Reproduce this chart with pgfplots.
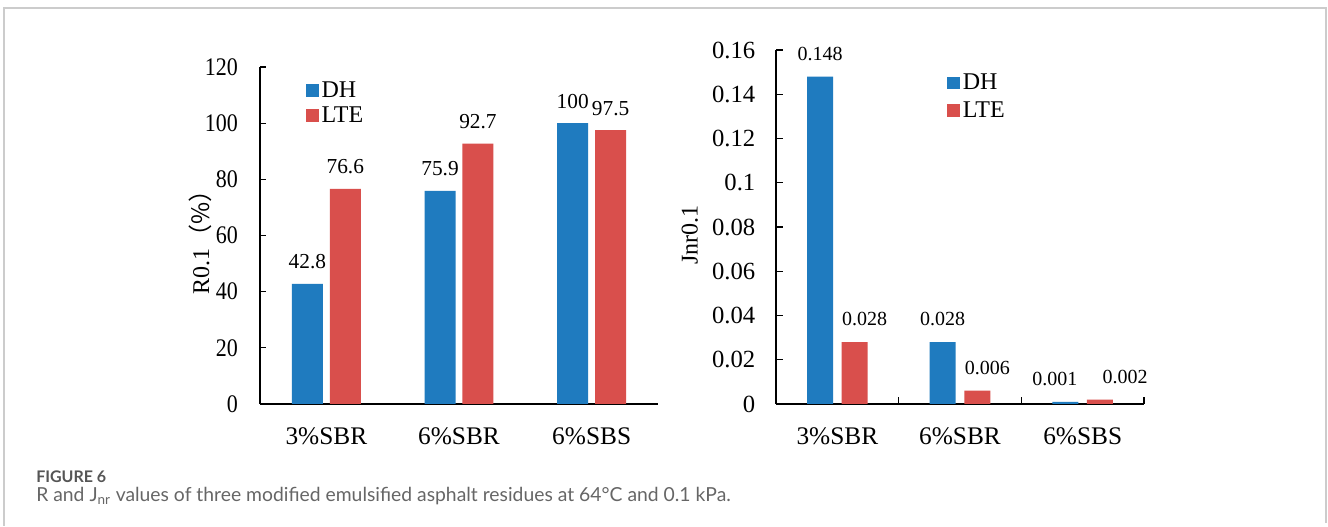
\documentclass[border=0pt]{standalone}
\usepackage{fontspec}
\setmainfont{Liberation Serif}
\newfontfamily\cjk{Noto Sans CJK SC}
\newfontfamily\capfont{Lato}
\usepackage{pgfplots}
\pgfplotsset{compat=1.18}
\definecolor{dhblue}{HTML}{1F7BBF}
\definecolor{ltered}{HTML}{D94F4C}
\definecolor{framegray}{HTML}{CCCCCC}
\definecolor{capgray}{HTML}{555555}
\definecolor{captext}{HTML}{666666}

\pgfplotsset{
  sqlegend/.style={legend image code/.code={\fill[##1,draw=none] (0pt,-4.8pt) rectangle (9.6pt,4.8pt);}},
}

\begin{document}
\begin{tikzpicture}[x=0.75pt,y=0.75pt]
\fill[white] (0,0) rectangle (1328,526);
\draw[framegray, line width=1.1pt] (4,0) -- (4,518) -- (1326,518) -- (1326,3);

% ---------- left chart ----------
\begin{axis}[
  at={(195pt,91.5pt)}, anchor=south west,
  scale only axis, width=298.5pt, height=252.75pt,
  xmin=-0.5, xmax=2.5, ymin=0, ymax=120,
  axis lines*=left,
  axis line style={black, line width=0.9pt},
  ybar, bar width=0.234,
  xtick={0,1,2}, xticklabels={3\%SBR,6\%SBR,6\%SBS},
  x tick style={draw=none},
  ytick={0,20,...,120},
  tick align=inside, major tick length=4.5pt,
  y tick style={black, line width=0.9pt},
  /pgf/number format/assume math mode=true,
  y tick label style={font=\fontsize{16.5}{19}\selectfont, yscale=1.15, xshift=-13pt},
  x tick label style={font=\fontsize{19}{21}\selectfont, yshift=-14pt},
  ylabel={R0.1\cjk{（}\%\cjk{）}},
  every axis y label/.style={at={(axis description cs:-0.151,0.498)}, rotate=90, anchor=center, font=\fontsize{18}{20}\selectfont},
  nodes near coords,
  every node near coord/.append style={font=\fontsize{16}{19}\selectfont, anchor=center, yshift=16.5pt, black},
  sqlegend,
  legend style={draw=none, fill=none, at={(axis description cs:0.115,0.965)}, anchor=north west,
    font=\fontsize{18}{20}\selectfont, row sep=1.5pt, inner sep=0pt,
    /tikz/every even column/.append style={column sep=4pt}},
  legend cell align=left,
]
\addplot[fill=dhblue, draw=none, bar shift=-0.143] coordinates {(0,42.8) (1,75.9) (2,100)};
\addplot[fill=ltered, draw=none, bar shift=0.143] coordinates {(0,76.6) (1,92.7) (2,97.5)};
\legend{DH, LTE}
\end{axis}

% ---------- right chart ----------
\begin{axis}[
  at={(582pt,91.5pt)}, anchor=south west,
  scale only axis, width=276pt, height=265.5pt,
  xmin=-0.5, xmax=2.5, ymin=0, ymax=0.16,
  axis lines*=left,
  axis line style={black, line width=0.9pt},
  ybar, bar width=0.212,
  xtick={0.5,1.5,2.5}, xticklabels={},
  x tick style={black, line width=0.9pt},
  extra x ticks={0,1,2}, extra x tick labels={3\%SBR,6\%SBR,6\%SBS},
  extra x tick style={major tick length=0pt},
  ytick={0,0.02,...,0.16},
  yticklabels={0,0.02,0.04,0.06,0.08,0.1,0.12,0.14,0.16},
  tick align=inside, major tick length=5.5pt,
  y tick style={black, line width=0.9pt},
  /pgf/number format/assume math mode=true,
  y tick label style={font=\fontsize{18.5}{21}\selectfont, xshift=-12pt},
  x tick label style={font=\fontsize{19}{21}\selectfont, yshift=-14pt},
  ylabel={Jnr0.1},
  every axis y label/.style={at={(axis description cs:-0.234,0.477)}, rotate=90, anchor=center, font=\fontsize{18}{20}\selectfont},
  nodes near coords,
  /pgf/number format/.cd, fixed, fixed zerofill, precision=3, /pgfplots/.cd,
  every node near coord/.append style={font=\fontsize{15}{18}\selectfont, anchor=center, yshift=17pt, black},
  sqlegend,
  legend style={draw=none, fill=none, at={(axis description cs:0.465,0.94)}, anchor=north west,
    font=\fontsize{18}{20}\selectfont, row sep=3.5pt, inner sep=0pt,
    /tikz/every even column/.append style={column sep=3pt}},
  legend cell align=left,
]
\addplot[fill=dhblue, draw=none, bar shift=-0.141,
  visualization depends on={\thisrow{dx} \as \dx},
  every node near coord/.append style={xshift=\dx pt}] table[x=x, y=y] {
x y dx
0 0.148 0
1 0.028 0
2 0.001 -7.9
};
\addplot[fill=ltered, draw=none, bar shift=0.141,
  visualization depends on={\thisrow{dx} \as \dx},
  every node near coord/.append style={xshift=\dx pt}] table[x=x, y=y] {
x y dx
0 0.028 7.5
1 0.006 7.5
2 0.002 18.8
};
\legend{DH, LTE}
\end{axis}

% ---------- caption ----------
\node[anchor=base west, inner sep=0pt, font=\capfont\bfseries\fontsize{12}{14}\selectfont, text=capgray] at (36,43) {FIGURE 6};
\node[anchor=base west, inner sep=0pt, font=\capfont\fontsize{14.5}{17}\selectfont, text=captext] at (36,24) {R and J\textsubscript{nr} values of three modified emulsified asphalt residues at 64°C and 0.1 kPa.};
\end{tikzpicture}
\end{document}
